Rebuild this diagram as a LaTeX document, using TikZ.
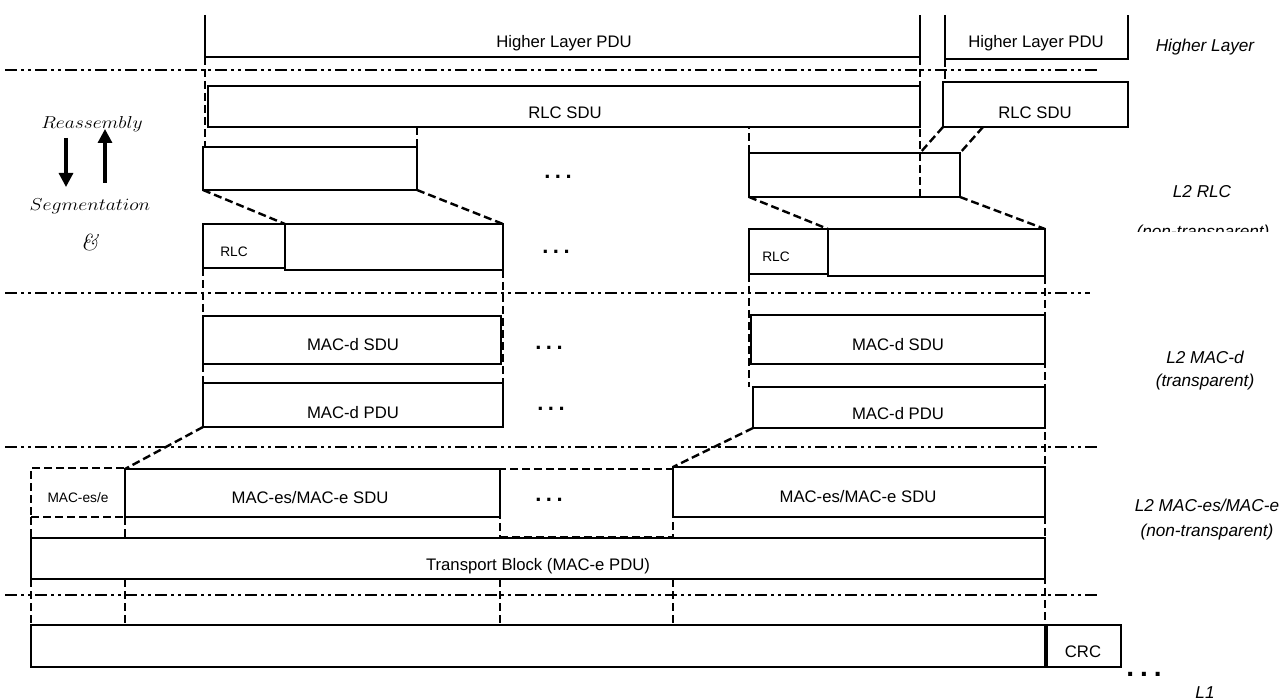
\documentclass[tikz,border=0pt]{standalone}
\usepackage{fontspec}
\newfontfamily\arial{Liberation Sans}
\usetikzlibrary{arrows.meta}
\begin{document}
\begin{tikzpicture}[x=1pt,y=-1pt,
  pbox/.style={draw, line width=1.6pt, inner sep=0pt, outer sep=0pt, anchor=north west},
  obox/.style={draw=none, inner sep=0pt, outer sep=0pt, anchor=north west},
  dbox/.style={draw, line width=2.4pt, dash pattern=on 8pt off 4pt, inner sep=0pt, outer sep=0pt, anchor=north west},
  dline/.style={line width=2.4pt, dash pattern=on 8pt off 4pt},
  sepline/.style={line width=2.4pt, dash pattern=on 12pt off 4pt on 3pt off 4pt on 3pt off 4pt},
  side/.style={line width=1.6pt},
  lbl/.style={font=\arial\fontsize{16.7}{19}\selectfont, inner sep=0pt},
  slbl/.style={font=\arial\fontsize{13.7}{15}\selectfont, inner sep=0pt},
  rlab/.style={font=\arial\itshape\fontsize{17.2}{20}\selectfont, inner sep=0pt},
  dots/.style={font=\arial\bfseries\fontsize{22}{24}\selectfont, inner sep=0pt},
  bigdots/.style={font=\arial\bfseries\fontsize{28}{30}\selectfont, inner sep=0pt},
  mlab/.style={font=\fontsize{18}{21}\selectfont, inner sep=0pt},
  amplab/.style={font=\fontsize{23}{26}\selectfont, inner sep=0pt},
  bigarrow/.style={line width=3.2pt, -{Triangle[length=14pt,width=14pt]}}
]
\useasboundingbox (0,0) rectangle (1281,700);

% separators
\draw[sepline] (5,70) -- (1100,70);
\draw[sepline] (5,293) -- (1090,293);
\draw[sepline] (5,447) -- (1100,447);
\draw[sepline] (5,595) -- (1100,595);

% Higher layer (open-top boxes)
\node[obox, minimum width=715pt, minimum height=42pt] (hl1) at (205,15) {};
\draw[side] (hl1.north west) -- (hl1.south west) -- (hl1.south east) -- (hl1.north east);
\node[obox, minimum width=183pt, minimum height=44pt] (hl2) at (945,15) {};
\draw[side] (hl2.north west) -- (hl2.south west) -- (hl2.south east) -- (hl2.north east);
\node[lbl] (thl1) at (564,43) {Higher Layer PDU};
\node[lbl] (thl2) at (1036,43) {Higher Layer PDU};

% RLC SDU
\node[pbox, minimum width=712pt, minimum height=41pt] (rlc1) at (208,86) {};
\node[pbox, minimum width=185pt, minimum height=45pt] (rlc2) at (943,82) {};
\node[lbl] (trlc1) at (565,113) {RLC SDU};
\node[lbl] (trlc2) at (1035,113) {RLC SDU};

% segments
\node[pbox, minimum width=214pt, minimum height=43pt] (seg1) at (203,147) {};
\node[pbox, minimum width=211pt, minimum height=44pt] (seg2) at (749,153) {};

% RLC PDUs
\node[pbox, minimum width=82pt, minimum height=44pt] (hdr1) at (203,224) {};
\node[pbox, minimum width=218pt, minimum height=46pt] (dat1) at (285,224) {};
\node[pbox, minimum width=79pt, minimum height=45pt] (hdr2) at (749,229) {};
\node[pbox, minimum width=217pt, minimum height=47pt] (dat2) at (828,229) {};
\node[slbl] (thdr1) at (234,252) {RLC};
\node[slbl] (thdr2) at (776,257) {RLC};

% MAC-d
\node[pbox, minimum width=298pt, minimum height=48pt] (msdu1) at (203,316) {};
\node[pbox, minimum width=300pt, minimum height=44pt] (mpdu1) at (203,383) {};
\node[pbox, minimum width=294pt, minimum height=49pt] (msdu2) at (751,315) {};
\node[pbox, minimum width=292pt, minimum height=41pt] (mpdu2) at (753,387) {};
\node[lbl] (tms1) at (353,345) {MAC-d SDU};
\node[lbl] (tmp1) at (353,413) {MAC-d PDU};
\node[lbl] (tms2) at (898,345) {MAC-d SDU};
\node[lbl] (tmp2) at (898,414) {MAC-d PDU};

% MAC-es/e
\node[dbox, minimum width=94pt, minimum height=49pt] (mace) at (31,468) {};
\node[pbox, minimum width=375pt, minimum height=48pt] (esdu1) at (125,469) {};
\node[dbox, minimum width=173pt, minimum height=68pt] (mid) at (500,469) {};
\node[pbox, minimum width=372pt, minimum height=50pt] (esdu2) at (673,467) {};
\node[slbl] (tmace) at (78,498) {MAC-es/e};
\node[lbl] (tes1) at (310,498) {MAC-es/MAC-e SDU};
\node[lbl] (tes2) at (858,497) {MAC-es/MAC-e SDU};

% Transport block
\node[pbox, minimum width=1014pt, minimum height=41pt] (tb) at (31,538) {};
\node[lbl] (ttb) at (538,566) {Transport Block (MAC-e PDU)};

% L1
\node[pbox, minimum width=1014pt, minimum height=42pt] (l1) at (31,625) {};
\node[pbox, minimum width=74pt, minimum height=42pt] (crc) at (1047,625) {};
\node[lbl] (tcrc) at (1083,652) {CRC};

% dots
\node[dots] (d1) at (558,177) {.\hspace{4.5pt}.\hspace{4.5pt}.};
\node[dots] (d2) at (556,252) {.\hspace{4.5pt}.\hspace{4.5pt}.};
\node[dots] (d3) at (549,348) {.\hspace{4.5pt}.\hspace{4.5pt}.};
\node[dots] (d4) at (551,409) {.\hspace{4.5pt}.\hspace{4.5pt}.};
\node[dots] (d5) at (549,500) {.\hspace{4.5pt}.\hspace{4.5pt}.};
\node[bigdots] (d6) at (1144,674) {.\hspace{6pt}.\hspace{6pt}.};

% dashed connectors
\coordinate (r2c) at (983,127);
\coordinate (s2c) at (920,153);
\draw[dline] (hl1.south west) -- (hl1.south west |- seg1.north);
\draw[dline] (seg1.north east) -- (seg1.north east |- rlc1.south);
\draw[dline] (seg2.north west) -- (seg2.north west |- rlc1.south);
\draw[dline] (hl1.south east) -- (hl1.south east |- seg2.south);
\draw[dline] (hl2.south west) -- (hl2.south west |- rlc2.north);
\draw[dline] (rlc2.south west) -- (s2c);
\draw[dline] (r2c) -- (seg2.north east);
\draw[dline] (seg1.south west) -- (hdr1.north east);
\draw[dline] (seg1.south east) -- (dat1.north east);
\draw[dline] (seg2.south west) -- (hdr2.north east);
\draw[dline] (seg2.south east) -- (dat2.north east);
\draw[dline] (hdr1.south west) -- (mpdu1.north west);
\draw[dline] (dat1.south east) -- (dat1.south east |- mpdu1.south);
\draw[dline] (hdr2.south west) -- (hdr2.south west |- mpdu2.north);
\draw[dline] (dat2.south east) -- (l1.south east);
\draw[dline] (mpdu1.south west) -- (esdu1.north west);
\draw[dline] (mpdu2.south west) -- (esdu2.north west);
\draw[dline] (mace.south west) -- (tb.north west);
\draw[dline] (tb.south west) -- (l1.north west);
\draw[dline] (esdu1.south west) -- (esdu1.south west |- tb.north);
\draw[dline] (tb.south -| esdu1.west) -- (l1.north -| esdu1.west);
\draw[dline] (tb.south -| mid.west) -- (l1.north -| mid.west);
\draw[dline] (tb.south -| mid.east) -- (l1.north -| mid.east);

% left labels and arrows
\node[mlab] (reas) at (92,124) {\scalebox{1.13}[1]{$Reassembly$}};
\node[mlab] (segm) at (90,206) {\scalebox{1.14}[1]{$Segmentation$}};
\node[amplab] (amp) at (90,243) {\textit{\&}};
\coordinate (da) at (66,138);
\coordinate (db) at (66,187);
\coordinate (ua) at (105,183);
\coordinate (ub) at (105,129);
\draw[bigarrow] (da) -- (db);
\draw[bigarrow] (ua) -- (ub);

% right labels
\node[rlab] (rl1) at (1205,47) {Higher Layer};
\node[rlab] (rl2) at (1202,192) {L2 RLC};
\begin{scope}
  \clip (1100,200) rectangle (1281,232);
  \node[rlab] (rl3) at (1203,233) {(non-transparent)};
\end{scope}
\node[rlab] (rl4) at (1205,357) {L2 MAC-d};
\node[rlab] (rl5) at (1205,382) {(transparent)};
\node[rlab] (rl6) at (1207,505) {L2 MAC-es/MAC-e};
\node[rlab] (rl7) at (1207,532) {(non-transparent)};
\node[rlab] (rl8) at (1205,693) {L1};
\end{tikzpicture}
\end{document}
